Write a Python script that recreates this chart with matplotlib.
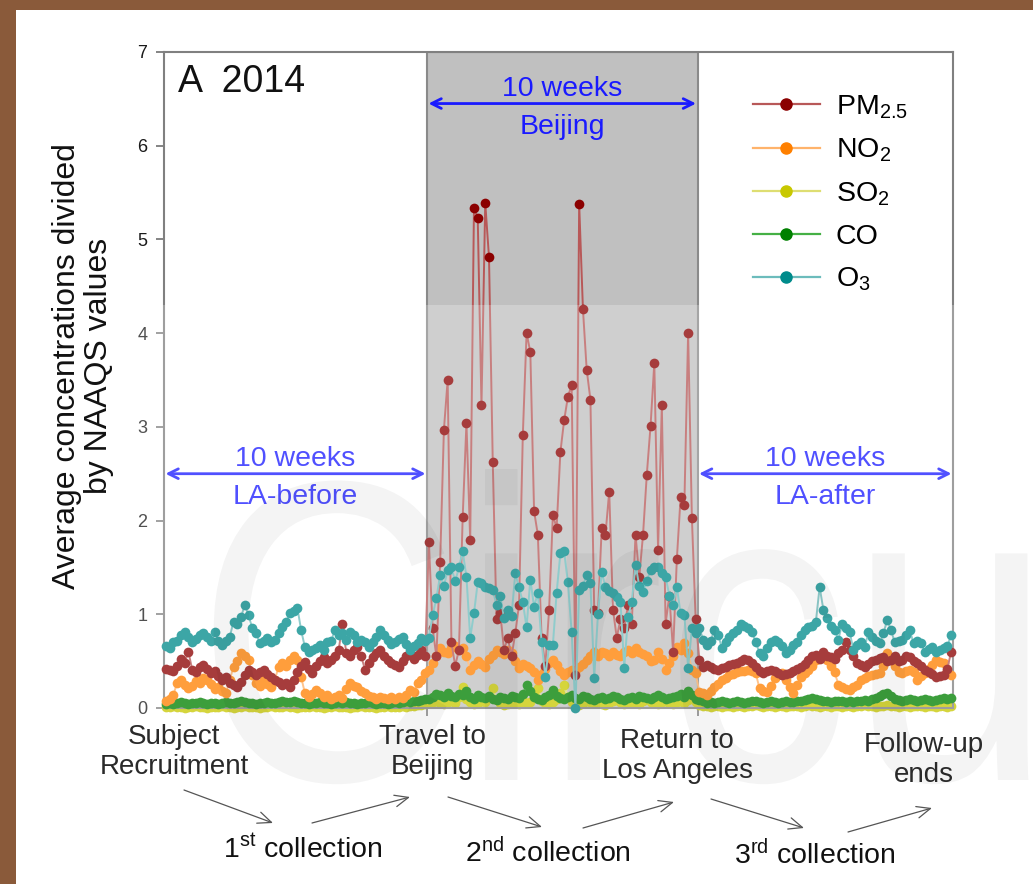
import matplotlib
matplotlib.use('Agg')
import matplotlib.pyplot as plt
import matplotlib.transforms as mtransforms
from matplotlib.patches import Rectangle, PathPatch, FancyArrowPatch
from matplotlib.textpath import TextPath
from matplotlib.font_manager import FontProperties
from matplotlib.lines import Line2D
import numpy as np

plt.rcParams['font.family'] = ['Liberation Sans', 'DejaVu Sans']
plt.rcParams['mathtext.fontset'] = 'custom'
plt.rcParams['mathtext.rm'] = 'Liberation Sans'
plt.rcParams['mathtext.it'] = 'Liberation Sans:italic'

W, H = 1033, 884

# daily concentration / NAAQS ratio, 10 weeks LA-before, 10 weeks Beijing, 10 weeks LA-after
pm25_before = [0.42, 0.41, 0.40, 0.45, 0.52, 0.48, 0.60, 0.41, 0.38, 0.44,
               0.46, 0.42, 0.37, 0.40, 0.34, 0.30, 0.33, 0.27, 0.25, 0.22,
               0.28, 0.35, 0.41, 0.38, 0.35, 0.38, 0.41, 0.36, 0.33, 0.30,
               0.28, 0.25, 0.27, 0.22, 0.30, 0.38, 0.45, 0.49, 0.42, 0.37,
               0.45, 0.50, 0.54, 0.48, 0.51, 0.56, 0.62, 0.90, 0.59, 0.55,
               0.62, 0.65, 0.55, 0.41, 0.48, 0.54, 0.59, 0.62, 0.56, 0.51,
               0.48, 0.46, 0.44, 0.50, 0.55, 0.59, 0.52, 0.57, 0.62, 0.55]
pm25_beijing = [1.77, 0.85, 0.55, 1.56, 2.97, 3.50, 0.70, 0.45, 0.62, 2.04,
                3.04, 1.79, 5.34, 5.23, 3.23, 5.39, 4.81, 2.63, 0.95, 1.01,
                0.62, 0.75, 0.55, 0.80, 1.10, 2.91, 4.00, 3.80, 2.10, 1.85,
                0.75, 0.45, 1.05, 2.06, 1.92, 2.73, 3.07, 3.32, 3.45, 0.35,
                5.38, 4.26, 3.61, 3.29, 1.05, 1.01, 1.92, 1.85, 2.31, 1.05,
                0.75, 0.95, 0.85, 1.10, 0.90, 1.85, 1.40, 1.85, 2.49, 3.01,
                3.68, 1.69, 3.23, 0.90, 1.20, 0.60, 1.59, 2.25, 2.17, 4.00,
                2.03, 0.95]
pm25_after = [0.51, 0.44, 0.46, 0.44, 0.42, 0.41, 0.43, 0.44, 0.46, 0.47,
              0.48, 0.50, 0.52, 0.51, 0.48, 0.44, 0.39, 0.37, 0.40, 0.41,
              0.39, 0.37, 0.35, 0.36, 0.37, 0.40, 0.42, 0.44, 0.47, 0.51,
              0.55, 0.57, 0.52, 0.60, 0.56, 0.54, 0.52, 0.59, 0.62, 0.70,
              0.62, 0.55, 0.48, 0.46, 0.44, 0.47, 0.50, 0.51, 0.53, 0.54,
              0.50, 0.51, 0.55, 0.50, 0.51, 0.56, 0.54, 0.50, 0.48, 0.45,
              0.41, 0.38, 0.36, 0.33, 0.34, 0.35, 0.42, 0.60]

no2_before = [0.08, 0.10, 0.14, 0.27, 0.30, 0.25, 0.21, 0.24, 0.29, 0.27,
              0.32, 0.30, 0.26, 0.20, 0.22, 0.18, 0.16, 0.30, 0.44, 0.50,
              0.59, 0.55, 0.51, 0.35, 0.27, 0.24, 0.30, 0.26, 0.22, 0.30,
              0.44, 0.48, 0.45, 0.51, 0.55, 0.51, 0.33, 0.16, 0.12, 0.15,
              0.19, 0.16, 0.12, 0.14, 0.10, 0.12, 0.14, 0.11, 0.20, 0.27,
              0.24, 0.22, 0.18, 0.16, 0.13, 0.12, 0.10, 0.12, 0.11, 0.10,
              0.12, 0.10, 0.12, 0.11, 0.14, 0.19, 0.17, 0.27, 0.30, 0.37]
no2_beijing = [0.41, 0.48, 0.55, 0.64, 0.60, 0.59, 0.64, 0.66, 0.62, 0.64,
               0.55, 0.41, 0.46, 0.50, 0.47, 0.44, 0.52, 0.57, 0.62, 0.60,
               0.58, 0.62, 0.59, 0.50, 0.43, 0.47, 0.45, 0.43, 0.38, 0.30,
               0.36, 0.42, 0.48, 0.51, 0.46, 0.40, 0.35, 0.38, 0.41, 0.38,
               0.44, 0.47, 0.51, 0.56, 0.60, 0.55, 0.60, 0.59, 0.56, 0.60,
               0.57, 0.55, 0.60, 0.62, 0.59, 0.64, 0.60, 0.58, 0.55, 0.50,
               0.51, 0.60, 0.52, 0.41, 0.48, 0.56, 0.65, 0.62, 0.69, 0.59,
               0.41, 0.37]
no2_after = [0.17, 0.16, 0.14, 0.18, 0.22, 0.26, 0.30, 0.32, 0.35, 0.36,
             0.38, 0.39, 0.40, 0.41, 0.39, 0.37, 0.21, 0.18, 0.17, 0.24,
             0.32, 0.35, 0.37, 0.30, 0.22, 0.16, 0.25, 0.33, 0.37, 0.41,
             0.45, 0.51, 0.53, 0.54, 0.51, 0.45, 0.38, 0.25, 0.22, 0.20,
             0.19, 0.22, 0.25, 0.30, 0.32, 0.34, 0.35, 0.36, 0.37, 0.45,
             0.59, 0.51, 0.45, 0.38, 0.37, 0.39, 0.41, 0.38, 0.30, 0.34,
             0.37, 0.42, 0.46, 0.51, 0.49, 0.48, 0.40, 0.35]

so2_before = [0.01, 0.01, 0.02, 0.01, 0.01, 0.00, 0.01, 0.01, 0.02, 0.01,
              0.01, 0.00, 0.01, 0.01, 0.01, 0.02, 0.01, 0.01, 0.00, 0.01,
              0.01, 0.02, 0.01, 0.01, 0.01, 0.00, 0.01, 0.01, 0.02, 0.01,
              0.01, 0.01, 0.02, 0.01, 0.01, 0.00, 0.01, 0.01, 0.01, 0.02,
              0.01, 0.01, 0.00, 0.01, 0.01, 0.02, 0.01, 0.01, 0.01, 0.00,
              0.01, 0.01, 0.02, 0.01, 0.01, 0.01, 0.00, 0.01, 0.01, 0.02,
              0.01, 0.01, 0.01, 0.02, 0.01, 0.02, 0.02, 0.03, 0.03, 0.04]
so2_beijing = [0.05, 0.06, 0.08, 0.05, 0.04, 0.06, 0.07, 0.05, 0.12, 0.22,
               0.10, 0.06, 0.04, 0.05, 0.08, 0.06, 0.12, 0.21, 0.09, 0.05,
               0.03, 0.04, 0.06, 0.05, 0.04, 0.07, 0.05, 0.06, 0.15, 0.21,
               0.08, 0.05, 0.04, 0.06, 0.10, 0.16, 0.25, 0.12, 0.06, 0.04,
               0.03, 0.05, 0.07, 0.06, 0.05, 0.08, 0.04, 0.03, 0.05, 0.07,
               0.09, 0.06, 0.04, 0.05, 0.06, 0.05, 0.04, 0.07, 0.10, 0.06,
               0.05, 0.04, 0.06, 0.08, 0.05, 0.04, 0.06, 0.07, 0.05, 0.09,
               0.12, 0.06]
so2_after = [0.03, 0.02, 0.02, 0.01, 0.02, 0.02, 0.01, 0.02, 0.02, 0.01,
             0.02, 0.02, 0.01, 0.02, 0.02, 0.03, 0.02, 0.01, 0.02, 0.02,
             0.01, 0.02, 0.02, 0.01, 0.02, 0.02, 0.02, 0.01, 0.02, 0.03,
             0.02, 0.02, 0.01, 0.02, 0.02, 0.01, 0.02, 0.02, 0.01, 0.02,
             0.02, 0.01, 0.02, 0.02, 0.03, 0.02, 0.02, 0.01, 0.02, 0.02,
             0.03, 0.02, 0.02, 0.01, 0.02, 0.02, 0.01, 0.02, 0.02, 0.02,
             0.01, 0.02, 0.02, 0.01, 0.02, 0.02, 0.01, 0.02]

co_before = [0.04, 0.05, 0.04, 0.05, 0.06, 0.05, 0.04, 0.05, 0.05, 0.06,
             0.05, 0.04, 0.05, 0.05, 0.04, 0.05, 0.06, 0.05, 0.05, 0.06,
             0.07, 0.06, 0.05, 0.05, 0.04, 0.05, 0.05, 0.06, 0.05, 0.05,
             0.06, 0.07, 0.06, 0.06, 0.07, 0.06, 0.05, 0.05, 0.04, 0.05,
             0.05, 0.06, 0.05, 0.05, 0.04, 0.05, 0.06, 0.05, 0.06, 0.05,
             0.05, 0.04, 0.05, 0.05, 0.06, 0.05, 0.04, 0.05, 0.05, 0.04,
             0.05, 0.06, 0.05, 0.06, 0.07, 0.06, 0.07, 0.08, 0.09, 0.10]
co_beijing = [0.10, 0.12, 0.15, 0.14, 0.12, 0.16, 0.13, 0.12, 0.15, 0.14,
              0.18, 0.12, 0.10, 0.14, 0.12, 0.11, 0.13, 0.10, 0.09, 0.12,
              0.11, 0.10, 0.13, 0.12, 0.11, 0.15, 0.25, 0.18, 0.12, 0.10,
              0.09, 0.12, 0.14, 0.19, 0.13, 0.11, 0.10, 0.12, 0.14, 0.11,
              0.10, 0.13, 0.12, 0.10, 0.09, 0.11, 0.12, 0.10, 0.11, 0.13,
              0.12, 0.10, 0.09, 0.11, 0.12, 0.10, 0.13, 0.12, 0.11, 0.10,
              0.12, 0.14, 0.12, 0.10, 0.11, 0.12, 0.13, 0.15, 0.12, 0.18,
              0.14, 0.10]
co_after = [0.09, 0.07, 0.05, 0.06, 0.05, 0.06, 0.07, 0.06, 0.05, 0.06,
            0.07, 0.06, 0.05, 0.06, 0.07, 0.08, 0.06, 0.05, 0.06, 0.07,
            0.06, 0.05, 0.06, 0.07, 0.06, 0.06, 0.07, 0.08, 0.09, 0.10,
            0.11, 0.10, 0.09, 0.08, 0.07, 0.06, 0.07, 0.08, 0.07, 0.06,
            0.07, 0.06, 0.07, 0.08, 0.09, 0.08, 0.10, 0.11, 0.13, 0.15,
            0.16, 0.13, 0.10, 0.09, 0.08, 0.09, 0.10, 0.09, 0.08, 0.09,
            0.10, 0.09, 0.08, 0.09, 0.10, 0.11, 0.10, 0.11]

o3_before = [0.66, 0.64, 0.70, 0.72, 0.78, 0.81, 0.76, 0.70, 0.74, 0.78,
             0.80, 0.76, 0.72, 0.81, 0.72, 0.67, 0.71, 0.76, 0.92, 0.90,
             0.97, 1.10, 0.99, 0.85, 0.80, 0.69, 0.72, 0.75, 0.70, 0.73,
             0.80, 0.86, 0.92, 1.01, 1.03, 1.07, 0.83, 0.65, 0.60, 0.62,
             0.64, 0.67, 0.62, 0.70, 0.72, 0.83, 0.78, 0.80, 0.73, 0.81,
             0.78, 0.70, 0.73, 0.70, 0.65, 0.70, 0.76, 0.83, 0.78, 0.73,
             0.68, 0.70, 0.74, 0.76, 0.68, 0.62, 0.66, 0.69, 0.75, 0.72]
o3_beijing = [0.75, 0.99, 1.17, 1.42, 1.30, 1.47, 1.50, 1.35, 1.50, 1.67,
              1.40, 0.75, 1.01, 1.34, 1.33, 1.29, 1.28, 1.26, 1.10, 1.20,
              0.96, 1.05, 0.98, 1.44, 1.29, 1.13, 0.86, 1.37, 1.08, 1.23,
              0.70, 0.33, 0.67, 0.67, 1.23, 1.65, 1.67, 1.34, 0.81, 0.00,
              1.26, 1.30, 1.42, 1.33, 0.32, 1.00, 1.45, 1.29, 1.25, 1.23,
              1.18, 1.13, 0.43, 0.97, 1.13, 1.53, 1.30, 1.24, 1.35, 1.47,
              1.50, 1.50, 1.44, 1.40, 1.20, 1.10, 1.29, 1.01, 0.99, 0.43,
              0.85, 0.80]
o3_after = [0.85, 0.73, 0.67, 0.72, 0.83, 0.78, 0.64, 0.70, 0.76, 0.80,
            0.83, 0.90, 0.88, 0.85, 0.81, 0.70, 0.59, 0.55, 0.64, 0.70,
            0.73, 0.70, 0.66, 0.59, 0.62, 0.67, 0.70, 0.78, 0.83, 0.86,
            0.88, 0.92, 1.29, 1.05, 0.96, 0.88, 0.83, 0.73, 0.90, 0.85,
            0.81, 0.62, 0.67, 0.70, 0.65, 0.81, 0.76, 0.72, 0.69, 0.80,
            0.94, 0.83, 0.70, 0.72, 0.73, 0.78, 0.83, 0.69, 0.72, 0.69,
            0.60, 0.63, 0.65, 0.60, 0.62, 0.64, 0.66, 0.78]

pollutants = ['PM$_{2.5}$', 'NO$_2$', 'SO$_2$', 'CO', 'O$_3$']
period_names = ['LA-before', 'Beijing', 'LA-after']
milestones = ['Subject\nRecruitment', 'Travel to\nBeijing',
              'Return to\nLos Angeles', 'Follow-up\nends']
collections = [r'1$^{\rm st}$ collection', r'2$^{\rm nd}$ collection',
               r'3$^{\rm rd}$ collection']

pm25 = np.array(pm25_before + pm25_beijing + pm25_after)
no2 = np.array(no2_before + no2_beijing + no2_after)
so2 = np.array(so2_before + so2_beijing + so2_after)
co = np.array(co_before + co_beijing + co_after)
o3 = np.array(o3_before + o3_beijing + o3_after)
days = np.arange(len(pm25))
b0 = len(pm25_before) - 0.5
b1 = b0 + len(pm25_beijing)


def fx(x):
    return x / W


def fy(y):
    return 1 - y / H


fig = plt.figure(figsize=(W / 100, H / 100), dpi=100)
fig.patch.set_facecolor('white')
ax = fig.add_axes([fx(164), fy(708), (953 - 164) / W, (708 - 52) / H])
ax.set_xlim(-0.5, days[-1] + 0.5)
ax.set_ylim(0, 7)

ax.axvspan(b0, b1, facecolor='#c0c0c0', edgecolor='#8a8a8a', lw=1.5, zorder=0)

# marker colour, line colour
styles = {
    'PM$_{2.5}$': ('#8b0000', '#b85858', pm25),
    'NO$_2$': ('#ff8000', '#ffb36b', no2),
    'SO$_2$': ('#c8c800', '#dede72', so2),
    'CO': ('#008000', '#45b045', co),
    'O$_3$': ('#008b8b', '#6cbcbc', o3),
}
draw_order = ['SO$_2$', 'CO', 'NO$_2$', 'PM$_{2.5}$', 'O$_3$']
handles = {}
for i, name in enumerate(draw_order):
    mc, lc, vals = styles[name]
    ax.plot(days, vals, color=lc, lw=1.4, zorder=2 + i, clip_on=False)
    ax.plot(days, vals, 'o', ms=7, color=mc, mec=mc, mew=0, zorder=2 + i,
            clip_on=False)
    handles[name] = Line2D([], [], color=lc, lw=1.6, marker='o', ms=8,
                           mfc=mc, mec=mc)

leg = ax.legend([handles[n] for n in pollutants], pollutants,
                loc='upper left', bbox_to_anchor=(0.7465, 0.937),
                frameon=False, fontsize=20.5, handlelength=2.35,
                handletextpad=0.55, labelspacing=0.56, borderpad=0,
                borderaxespad=0)

for s in ['left', 'top', 'right', 'bottom']:
    ax.spines[s].set_color('#808080')
    ax.spines[s].set_linewidth(1.5)
ax.set_yticks(range(8))
ax.tick_params(axis='y', direction='out', length=6, width=1.2,
               color='#707070', labelsize=13, pad=6, labelcolor='#1a1a1a')
ax.set_xticks([b0, b1])
ax.set_xticklabels([])
ax.tick_params(axis='x', direction='out', length=6, width=1.2, color='#707070')

ax.text((178 - 164) / (953 - 164), (708 - 82) / (708 - 52), 'A  2014',
        transform=ax.transAxes, fontsize=27, va='center', ha='left',
        color='#111111')

# period arrows
blue = '#1a1aff'
spans = [(-0.5, b0, 2.50), (b0, b1, 6.45), (b1, days[-1] + 0.5, 2.50)]
for (x0, x1, yv), pname in zip(spans, period_names):
    ax.annotate('', xy=(x0 + 0.4, yv), xytext=(x1 - 0.4, yv),
                arrowprops=dict(arrowstyle='<->,head_length=0.7,head_width=0.35',
                                color=blue, lw=2, shrinkA=0, shrinkB=0),
                zorder=20)
    xm = (x0 + x1) / 2
    ax.text(xm, yv + 0.16, '10 weeks', color=blue, fontsize=20.5,
            ha='center', va='center', zorder=20)
    ax.text(xm, yv - 0.25, pname, color=blue, fontsize=20.5,
            ha='center', va='center', zorder=20)

fig.text(fx(83), fy(366), 'Average concentrations divided\nby NAAQS values',
         rotation=90, fontsize=23, ha='center', va='center',
         multialignment='center', linespacing=1.05, color='#111111',
         zorder=25)

# timeline labels under the axis
for (x, y), lab in zip([(174, 752), (432, 752), (677, 756), (924, 760)],
                       milestones):
    fig.text(fx(x), fy(y), lab, fontsize=20, ha='center', va='center',
             linespacing=1.2, color='#2a2a2a', zorder=25)
for (x, y), lab in zip([(303, 850), (548, 853), (815, 855)], collections):
    fig.text(fx(x), fy(y), lab, fontsize=20.5, ha='center', va='center',
             color='#111111', zorder=25)

arrows = [((184, 790), (273, 823)), ((312, 823), (410, 797)),
          ((448, 797), (542, 827)), ((583, 828), (674, 802)),
          ((711, 799), (804, 828)), ((848, 832), (932, 808))]
for (xa, ya), (xb, yb) in arrows:
    fig.add_artist(FancyArrowPatch((fx(xa), fy(ya)), (fx(xb), fy(yb)),
                                   transform=fig.transFigure,
                                   arrowstyle='->,head_length=0.7,head_width=0.3',
                                   mutation_scale=14, lw=0.9, color='#555555',
                                   shrinkA=0, shrinkB=0))

# journal watermark band and letters
fig.add_artist(Rectangle((fx(16), fy(780)), 1, (780 - 305) / H,
                         transform=fig.transFigure, facecolor='white',
                         alpha=0.24, lw=0, zorder=20))
tp = TextPath((0, 0), 'Circu', size=1, prop=FontProperties(family='Liberation Sans'))
em = 4.29
wm_tr = (mtransforms.Affine2D().scale(em * 0.857, em)
         .translate(1.95, (H - 780) / 100) + fig.dpi_scale_trans)
fig.add_artist(PathPatch(tp, transform=wm_tr, facecolor='black', alpha=0.045,
                         lw=0, zorder=21))

# brown page frame
brown = '#8a5a3a'
fig.add_artist(Rectangle((0, fy(10)), 1, 10 / H, transform=fig.transFigure,
                         facecolor=brown, lw=0, zorder=30))
fig.add_artist(Rectangle((0, 0), 16 / W, 1, transform=fig.transFigure,
                         facecolor=brown, lw=0, zorder=30))

fig.savefig('out.png', dpi=100)
